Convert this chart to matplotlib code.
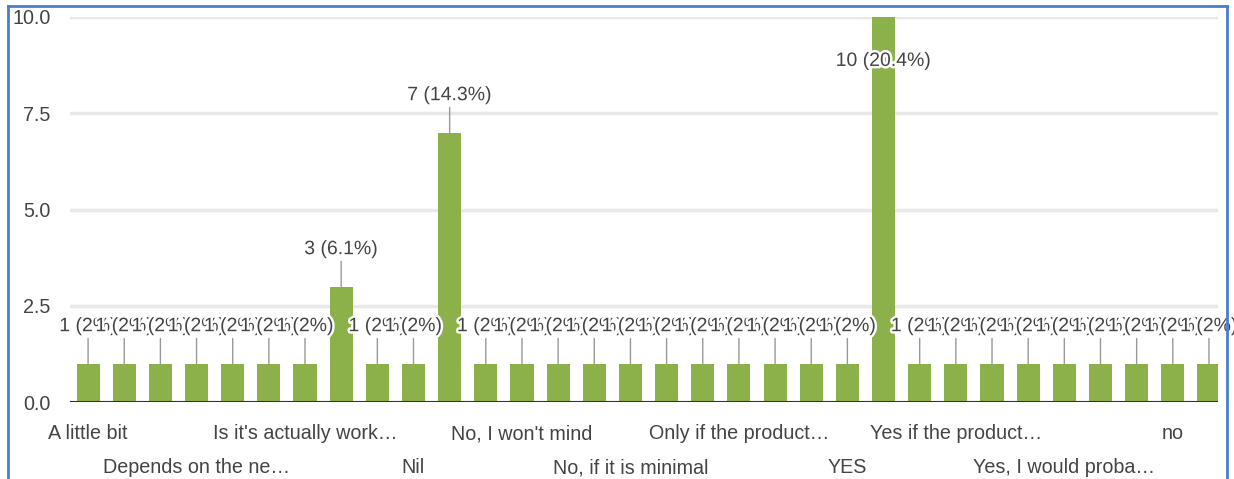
import matplotlib
matplotlib.use('Agg')
import matplotlib.pyplot as plt
import matplotlib.patheffects as pe
from matplotlib.lines import Line2D

# ---- data ----
counts = [1, 1, 1, 1, 1, 1, 1, 3, 1, 1, 7, 1, 1, 1, 1, 1,
          1, 1, 1, 1, 1, 1, 10, 1, 1, 1, 1, 1, 1, 1, 1, 1]
tick_positions = [0, 3, 6, 9, 12, 15, 18, 21, 24, 27, 30]
tick_labels = ["A little bit", "Depends on the ne\u2026", "Is it's actually work\u2026",
               "Nil", "No, I won't mind", "No, if it is minimal",
               "Only if the product\u2026", "YES", "Yes if the product\u2026",
               "Yes, I would proba\u2026", "no"]
y_ticks = [0, 2.5, 5, 7.5, 10]
y_tick_labels = ["0.0", "2.5", "5.0", "7.5", "10.0"]

plt.rcParams['font.family'] = ['Liberation Sans', 'DejaVu Sans']

W, H = 1234, 479
fig = plt.figure(figsize=(W / 100, H / 100), dpi=100)
fig.patch.set_facecolor('white')
left, right, bottom, top = 70, 1218, 402, 17
ax = fig.add_axes([left / W, 1 - bottom / H, (right - left) / W, (bottom - top) / H])

bar_color = '#8cb14b'
text_color = '#444444'
x = list(range(len(counts)))
ax.bar(x, counts, width=0.64, color=bar_color, zorder=2)

ax.set_xlim(-0.5, 31.25)
ax.set_ylim(0, 10)
for s in ax.spines.values():
    s.set_visible(False)
ax.axhline(0, color='#333333', lw=2.2, zorder=4)
ax.set_yticks(y_ticks)
ax.set_yticklabels(y_tick_labels)
ax.yaxis.grid(True, color='#e8e8e8', lw=2.5, zorder=0)
ax.set_axisbelow(True)
ax.tick_params(axis='y', length=0, pad=14, labelsize=14.2, labelcolor=text_color)

ax.set_xticks(tick_positions)
ax.set_xticklabels(tick_labels)
ax.tick_params(axis='x', length=0, labelsize=14.2, labelcolor=text_color)
for i, t in enumerate(ax.xaxis.get_major_ticks()):
    t.set_pad(16 if i % 2 == 0 else 40.5)

total = sum(counts)
halo = [pe.withStroke(linewidth=3.5, foreground='white')]
for xi, v in zip(x, counts):
    pct = f"{100 * v / total:.1f}".rstrip('0').rstrip('.')
    label = f"{v} ({pct}%)"
    if v >= 9.5:
        ax.annotate(label, (xi, v), xytext=(0, -32), textcoords='offset points',
                    ha='center', va='center', fontsize=14, color=text_color,
                    path_effects=halo, zorder=6, annotation_clip=False)
    else:
        ax.annotate('', (xi, v), xytext=(0, 18), textcoords='offset points',
                    arrowprops=dict(arrowstyle='-', color='#999999', lw=1,
                                    shrinkA=0, shrinkB=0), zorder=3)
        ax.annotate(label, (xi, v), xytext=(0, 26.5), textcoords='offset points',
                    ha='center', va='center', fontsize=14, color=text_color,
                    path_effects=halo, zorder=6, annotation_clip=False)

# screenshot frame
bc = '#4a7ec9'
fig.add_artist(Line2D([8 / W, 8 / W], [0, 1 - 6 / H], transform=fig.transFigure, color=bc, lw=2))
fig.add_artist(Line2D([8 / W, 1227 / W], [1 - 6 / H, 1 - 6 / H], transform=fig.transFigure, color=bc, lw=2))
fig.add_artist(Line2D([1227 / W, 1227 / W], [0, 1 - 6 / H], transform=fig.transFigure, color=bc, lw=2))

fig.savefig('out.png', dpi=100, facecolor='white')
